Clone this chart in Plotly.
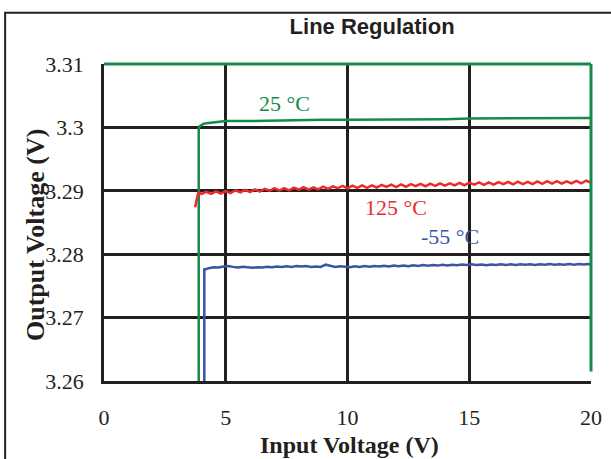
import plotly.graph_objects as go

# ---- data ----
green_x = [3.89, 3.89, 3.93, 4.0, 4.1, 4.3, 4.6, 5.0, 6.0, 7.0, 8.0, 9.0, 10.0, 11.0,
           12.0, 13.0, 14.0, 15.0, 16.0, 17.0, 18.0, 19.0, 20.0]
green_y = [3.2550, 3.2998, 3.3002, 3.3004, 3.3006, 3.3007, 3.3008, 3.3010, 3.3010, 3.3011,
           3.3011, 3.3012, 3.3012, 3.3012, 3.3013, 3.3013, 3.3013, 3.3014, 3.3014, 3.3014,
           3.3015, 3.3015, 3.3015]

red_x = [3.74, 3.80, 3.86, 3.92,
         4.0, 4.2, 4.4, 4.6, 4.8, 5.0, 5.2, 5.4, 5.6, 5.8, 6.0, 6.2, 6.4, 6.6, 6.8,
         7.0, 7.2, 7.4, 7.6, 7.8, 8.0, 8.2, 8.4, 8.6, 8.8, 9.0, 9.2, 9.4, 9.6, 9.8,
         10.0, 10.2, 10.4, 10.6, 10.8, 11.0, 11.2, 11.4, 11.6, 11.8, 12.0, 12.2, 12.4,
         12.6, 12.8, 13.0, 13.2, 13.4, 13.6, 13.8, 14.0, 14.2, 14.4, 14.6, 14.8, 15.0,
         15.2, 15.4, 15.6, 15.8, 16.0, 16.2, 16.4, 16.6, 16.8, 17.0, 17.2, 17.4, 17.6,
         17.8, 18.0, 18.2, 18.4, 18.6, 18.8, 19.0, 19.2, 19.4, 19.6, 19.8, 20.0]
red_y = [3.28740, 3.28830, 3.28950, 3.28975,
         3.28950, 3.28984, 3.28953, 3.28992, 3.28956, 3.28995, 3.28964, 3.29008, 3.28977,
         3.29016, 3.28980, 3.29022, 3.28988, 3.29032, 3.29001, 3.29040, 3.29003, 3.29043,
         3.29008, 3.29051, 3.29018, 3.29056, 3.29019, 3.29056, 3.29024, 3.29067, 3.29029,
         3.29070, 3.29040, 3.29077, 3.29040, 3.29082, 3.29046, 3.29086, 3.29048, 3.29085,
         3.29052, 3.29094, 3.29061, 3.29098, 3.29060, 3.29102, 3.29064, 3.29104, 3.29073,
         3.29110, 3.29072, 3.29114, 3.29078, 3.29118, 3.29080, 3.29117, 3.29084, 3.29126,
         3.29088, 3.29130, 3.29096, 3.29133, 3.29094, 3.29133, 3.29097, 3.29138, 3.29104,
         3.29141, 3.29102, 3.29143, 3.29105, 3.29141, 3.29107, 3.29149, 3.29110, 3.29151,
         3.29114, 3.29153, 3.29114, 3.29150, 3.29116, 3.29157, 3.29118, 3.29159, 3.29130]

blue_x = [4.12, 4.12, 4.2,
          4.3, 4.5, 4.7, 4.9, 5.1, 5.3, 5.5, 5.7, 5.9, 6.1, 6.3, 6.5, 6.7, 6.9, 7.1, 7.3,
          7.5, 7.7, 7.9, 8.1, 8.3, 8.5, 8.7, 8.9, 9.1, 9.3, 9.5, 9.7, 9.9, 10.1, 10.3,
          10.5, 10.7, 10.9, 11.1, 11.3, 11.5, 11.7, 11.9, 12.1, 12.3, 12.5, 12.7, 12.9,
          13.1, 13.3, 13.5, 13.7, 13.9, 14.1, 14.3, 14.5, 14.7, 14.9, 15.1, 15.3, 15.5,
          15.7, 15.9, 16.1, 16.3, 16.5, 16.7, 16.9, 17.1, 17.3, 17.5, 17.7, 17.9, 18.1,
          18.3, 18.5, 18.7, 18.9, 19.1, 19.3, 19.5, 19.7, 19.9, 20.0]
blue_y = [3.25500, 3.27760, 3.27765,
          3.27780, 3.27795, 3.27790, 3.27805, 3.27812, 3.27800, 3.27792, 3.27800, 3.27790,
          3.27785, 3.27795, 3.27790, 3.27800, 3.27795, 3.27805, 3.27798, 3.27808, 3.27800,
          3.27812, 3.27805, 3.27815, 3.27800, 3.27806, 3.27800, 3.27835, 3.27812, 3.27800,
          3.27808, 3.27800, 3.27795, 3.27808, 3.27800, 3.27812, 3.27802, 3.27815, 3.27806,
          3.27818, 3.27808, 3.27822, 3.27812, 3.27820, 3.27812, 3.27826, 3.27816, 3.27828,
          3.27818, 3.27830, 3.27820, 3.27834, 3.27822, 3.27835, 3.27826, 3.27838, 3.27828,
          3.27842, 3.27830, 3.27836, 3.27826, 3.27838, 3.27828, 3.27840, 3.27830, 3.27840,
          3.27830, 3.27842, 3.27832, 3.27840, 3.27830, 3.27842, 3.27832, 3.27845, 3.27832,
          3.27842, 3.27834, 3.27846, 3.27834, 3.27844, 3.27836, 3.27846, 3.27838]

ytick_vals = [3.26, 3.27, 3.28, 3.29, 3.30, 3.31]
ytick_text = ["3.26", "3.27", "3.28", "3.29", "3.3", "3.31"]

series_labels = ["25 °C", "125 °C", "-55 °C"]
label_x = [7.4, 12.0, 14.2]
label_y = [3.3038, 3.2874, 3.2828]

GREEN = "#168a4a"
RED = "#ee2a2e"
BLUE = "#3b55a5"
INK = "#231f20"
SERIF = "Liberation Serif"

fig = go.Figure()
fig.add_trace(go.Scatter(x=green_x, y=green_y, mode="lines", line=dict(color=GREEN, width=2.5)))
fig.add_trace(go.Scatter(x=red_x, y=red_y, mode="lines", line=dict(color=RED, width=2.5)))
fig.add_trace(go.Scatter(x=blue_x, y=blue_y, mode="lines", line=dict(color=BLUE, width=2.5)))

for txt, lx, ly, col in zip(series_labels, label_x, label_y, [GREEN, RED, BLUE]):
    fig.add_annotation(x=lx, y=ly, text=txt, showarrow=False,
                       font=dict(family=SERIF, size=22, color=col))

# axis titles (the y title overlaps the tick labels in the original)
fig.add_annotation(xref="paper", yref="paper", x=-0.176, y=0.46, text="<b>Output Voltage (V)</b>",
                   textangle=-90, showarrow=False, font=dict(family=SERIF, size=26, color=INK))
fig.add_annotation(xref="paper", yref="paper", x=0.505, y=-0.25, text="<b>Input Voltage (V)</b>",
                   showarrow=False, font=dict(family=SERIF, size=24, color=INK))

# green top/right frame of the plot area and the outer chart border
fig.add_shape(type="line", xref="paper", yref="paper", x0=0, x1=1, y0=1, y1=1,
              line=dict(color=GREEN, width=3))
fig.add_shape(type="line", xref="paper", yref="paper", x0=1, x1=1, y0=0.03, y1=1,
              line=dict(color=GREEN, width=3))
fig.add_shape(type="rect", xref="paper", yref="paper", x0=-0.203, x1=1.08, y0=-0.3, y1=1.162,
              line=dict(color=INK, width=2))

fig.update_layout(
    width=611, height=459,
    margin=dict(l=104, r=20, t=64, b=78, autoexpand=False),
    paper_bgcolor="white", plot_bgcolor="white",
    showlegend=False,
    font=dict(family=SERIF, size=22, color=INK),
    title=dict(text="Line Regulation", x=0.609, xanchor="center", y=0.943, yanchor="middle",
               font=dict(family="Liberation Sans", size=22, color=INK, weight="bold")),
    xaxis=dict(range=[0, 20], tick0=0, dtick=5, showgrid=True, gridcolor=INK, gridwidth=2.5,
               showline=True, linecolor=INK, linewidth=2.5, zeroline=False, ticks="",
               ticklabelstandoff=15, tickfont=dict(family=SERIF, size=22, color=INK)),
    yaxis=dict(range=[3.26, 3.31], tickvals=ytick_vals, ticktext=ytick_text, showgrid=True,
               gridcolor=INK, gridwidth=2.5, showline=True, linecolor=INK, linewidth=2.5,
               zeroline=False, ticks="", ticklabelstandoff=13,
               tickfont=dict(family=SERIF, size=22, color=INK)),
)

# drop the page's default body margin so the figure sits at the window's corner
fig.write_html("out.html", config={"displayModeBar": False},
               post_script="document.body.style.margin='0';")
